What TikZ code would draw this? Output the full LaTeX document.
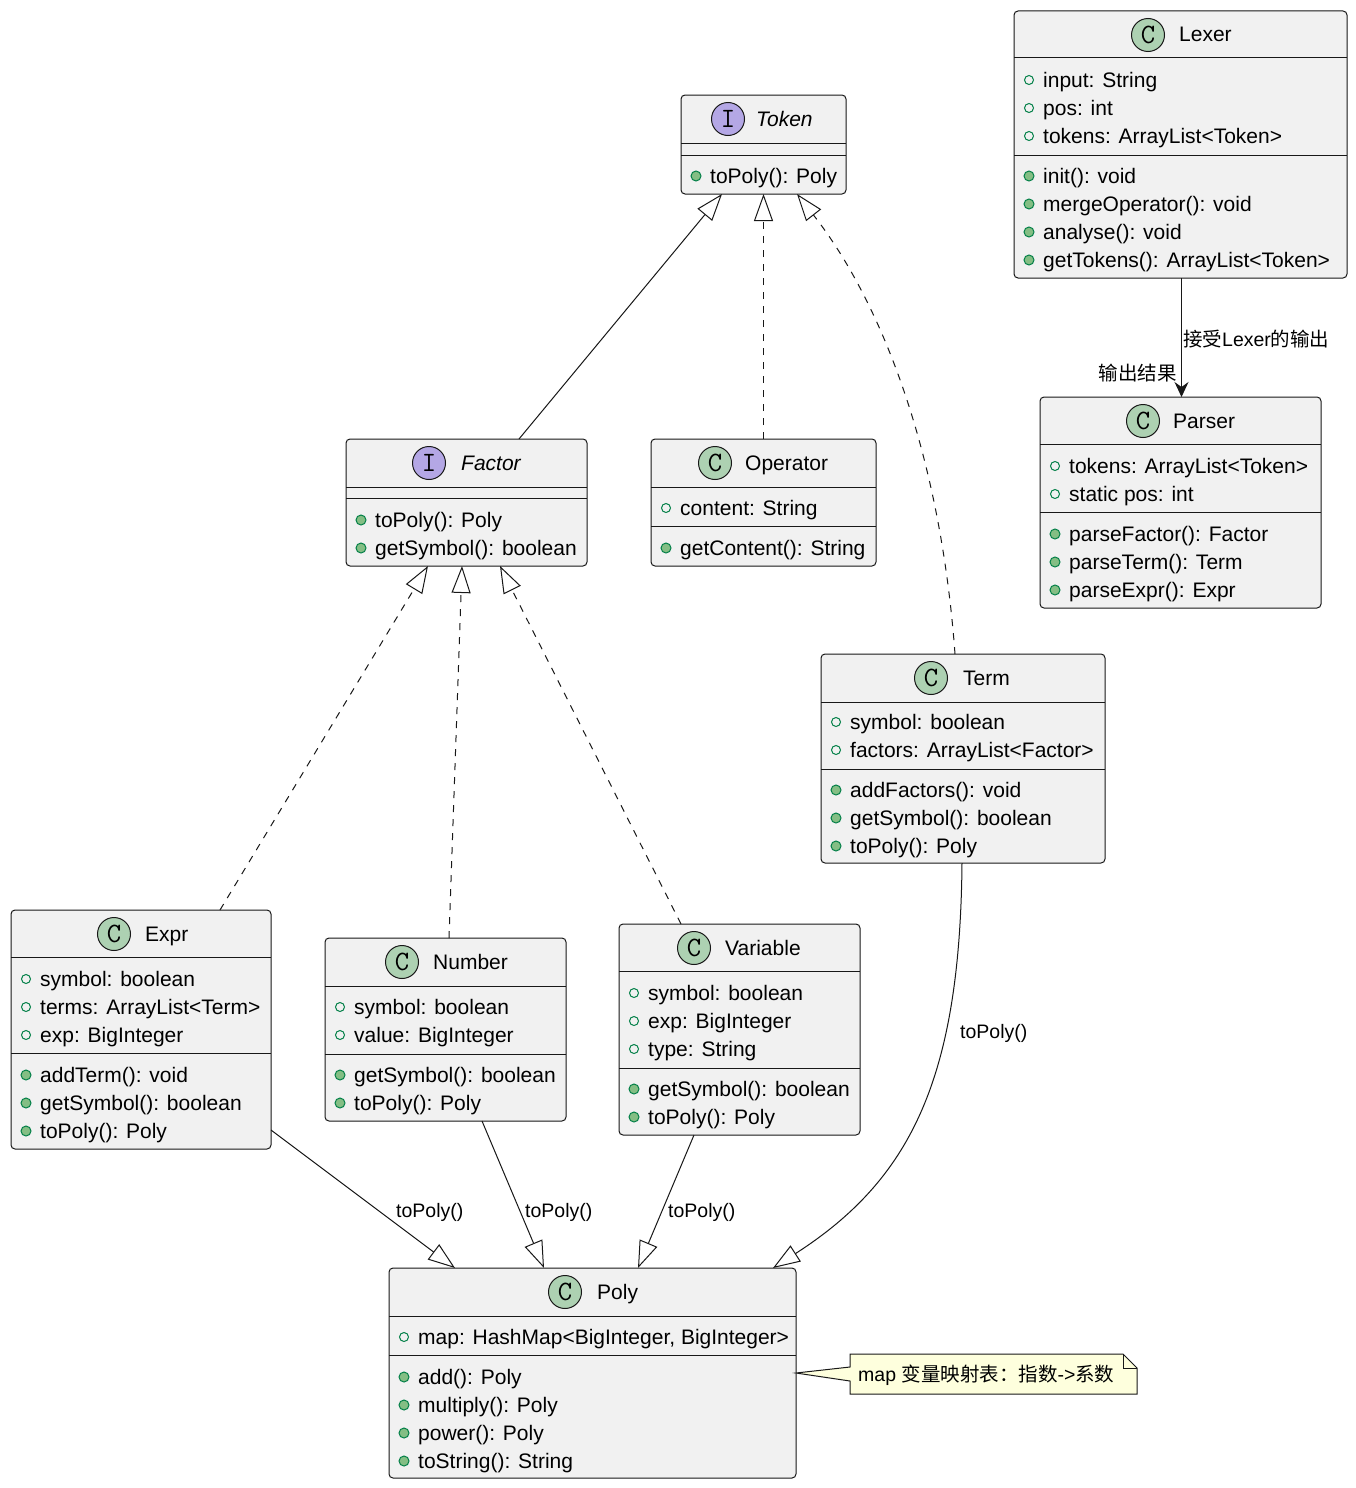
\documentclass[tikz,border=0pt]{standalone}
\usepackage{fontspec}
\setmainfont{Liberation Sans}
\newfontfamily\cjk{Noto Sans CJK SC}
\usetikzlibrary{arrows.meta,fit}
\definecolor{boxfill}{HTML}{F1F1F1}
\definecolor{boxline}{HTML}{181818}
\definecolor{classspot}{HTML}{ADD1B2}
\definecolor{ifacespot}{HTML}{B4A7E5}
\definecolor{mgreen}{HTML}{038048}
\definecolor{mfill}{HTML}{84BE84}
\definecolor{notefill}{HTML}{FEFFDD}
\newcommand\memfont{\fontsize{21}{25}\selectfont}
\newcommand\lblfont{\fontsize{19.5}{23}\selectfont}
\newcounter{mc}
\newcommand\attr[3]{\stepcounter{mc}\node[attrmark] (am\arabic{mc}) at ({#1+15},#2) {};
  \node[member] (at\arabic{mc}) at ({#1+29},{#2+7}) {#3};}
\newcommand\meth[3]{\stepcounter{mc}\node[methmark] (mm\arabic{mc}) at ({#1+15},#2) {};
  \node[member] (mt\arabic{mc}) at ({#1+29},{#2+7}) {#3};}
\newcommand\chdr[4]{\stepcounter{mc}\node[spot, fill=classspot] (sp\arabic{mc}) at (#1,#2) {C};
  \node[member] (hn\arabic{mc}) at (#3,{#2+7}) {#4};}
\newcommand\ihdr[4]{\stepcounter{mc}\node[spot, fill=ifacespot] (sp\arabic{mc}) at (#1,#2) {I};
  \node[member] (hn\arabic{mc}) at (#3,{#2+7}) {\itshape #4};}
\tikzset{
  classbox/.style={draw=boxline, fill=boxfill, line width=1pt, rounded corners=4pt, inner sep=0pt, outer sep=0pt},
  divline/.style={draw=boxline, line width=1pt},
  spot/.style={circle, draw=boxline, line width=1pt, minimum size=33pt, inner sep=0pt, font=\ttfamily\fontsize{28}{28}\selectfont},
  member/.style={anchor=base west, inner sep=0pt, font=\memfont, text=black},
  attrmark/.style={circle, draw=mgreen, line width=1pt, minimum size=9pt, inner sep=0pt},
  methmark/.style={circle, draw=mgreen, fill=mfill, line width=1pt, minimum size=10pt, inner sep=0pt},
  realize/.style={draw=boxline, line width=1pt, -{Triangle[open, length=27pt, width=19pt]}},
  implement/.style={realize, dash pattern=on 7pt off 7pt},
  assoc/.style={draw=boxline, line width=1pt, -{Stealth[length=15pt, width=14pt, inset=5pt]}},
  lbl/.style={anchor=base west, inner sep=0pt, font=\lblfont},
}
\begin{document}
\begin{tikzpicture}[x=1pt, y=-1pt]
\useasboundingbox[fill=white] (0,0) rectangle (1356,1488);

% ---- Token
\node[classbox, fit={(681,95)(846,194)}] (token) {};
\ihdr{728}{119}{756}{Token}
\draw[divline] (681,143) -- (846,143);
\draw[divline] (681,155) -- (846,155);
\meth{681}{176}{toPoly(): Poly}

% ---- Lexer
\node[classbox, fit={(1014,11)(1347,278)}] (lexer) {};
\chdr{1148}{35}{1179}{Lexer}
\draw[divline] (1014,58) -- (1347,58);
\attr{1014}{80}{input: String}
\attr{1014}{108}{pos: int}
\attr{1014}{136}{tokens: ArrayList<Token>}
\draw[divline] (1014,155) -- (1347,155);
\meth{1014}{176}{init(): void}
\meth{1014}{204}{mergeOperator(): void}
\meth{1014}{232}{analyse(): void}
\meth{1014}{260}{getTokens(): ArrayList<Token>}

% ---- Parser
\node[classbox, fit={(1040,397)(1321,608)}] (parser) {};
\chdr{1143}{421}{1173}{Parser}
\draw[divline] (1040,444) -- (1321,444);
\attr{1040}{466}{tokens: ArrayList<Token>}
\attr{1040}{494}{static pos: int}
\draw[divline] (1040,512) -- (1321,512);
\meth{1040}{534}{parseFactor(): Factor}
\meth{1040}{562}{parseTerm(): Term}
\meth{1040}{590}{parseExpr(): Expr}

% ---- Factor
\node[classbox, fit={(346,439)(587,566)}] (factor) {};
\ihdr{429}{463}{461}{Factor}
\draw[divline] (346,487) -- (587,487);
\draw[divline] (346,498) -- (587,498);
\meth{346}{520}{toPoly(): Poly}
\meth{346}{548}{getSymbol(): boolean}

% ---- Operator
\node[classbox, fit={(651,439)(876,566)}] (operator) {};
\chdr{715}{463}{745}{Operator}
\draw[divline] (651,487) -- (876,487);
\attr{651}{508}{content: String}
\draw[divline] (651,526) -- (876,526);
\meth{651}{548}{getContent(): String}

% ---- Term
\node[classbox, fit={(821,654)(1105,863)}] (term) {};
\chdr{931}{678}{963}{Term}
\draw[divline] (821,702) -- (1105,702);
\attr{821}{722}{symbol: boolean}
\attr{821}{750}{factors: ArrayList<Factor>}
\draw[divline] (821,769) -- (1105,769);
\meth{821}{790}{addFactors(): void}
\meth{821}{818}{getSymbol(): boolean}
\meth{821}{846}{toPoly(): Poly}

% ---- Expr
\node[classbox, fit={(11,910)(271,1149)}] (expr) {};
\chdr{114}{934}{145}{Expr}
\draw[divline] (11,957) -- (271,957);
\attr{11}{979}{symbol: boolean}
\attr{11}{1007}{terms: ArrayList<Term>}
\attr{11}{1035}{exp: BigInteger}
\draw[divline] (11,1053) -- (271,1053);
\meth{11}{1075}{addTerm(): void}
\meth{11}{1103}{getSymbol(): boolean}
\meth{11}{1131}{toPoly(): Poly}

% ---- Number
\node[classbox, fit={(325,938)(566,1121)}] (number) {};
\chdr{402}{962}{433}{Number}
\draw[divline] (325,986) -- (566,986);
\attr{325}{1007}{symbol: boolean}
\attr{325}{1035}{value: BigInteger}
\draw[divline] (325,1054) -- (566,1054);
\meth{325}{1075}{getSymbol(): boolean}
\meth{325}{1103}{toPoly(): Poly}

% ---- Variable
\node[classbox, fit={(619,924)(860,1135)}] (variable) {};
\chdr{694}{948}{725}{Variable}
\draw[divline] (619,971) -- (860,971);
\attr{619}{993}{symbol: boolean}
\attr{619}{1021}{exp: BigInteger}
\attr{619}{1049}{type: String}
\draw[divline] (619,1068) -- (860,1068);
\meth{619}{1089}{getSymbol(): boolean}
\meth{619}{1117}{toPoly(): Poly}

% ---- Poly
\node[classbox, fit={(389,1268)(796,1478)}] (poly) {};
\chdr{565}{1292}{597}{Poly}
\draw[divline] (389,1316) -- (796,1316);
\attr{389}{1337}{map: HashMap<BigInteger, BigInteger>}
\draw[divline] (389,1355) -- (796,1355);
\meth{389}{1377}{add(): Poly}
\meth{389}{1405}{multiply(): Poly}
\meth{389}{1433}{power(): Poly}
\meth{389}{1461}{toString(): String}

% ---- Note
\node[fit={(850,1354)(1137,1394)}, inner sep=0pt, outer sep=0pt] (note) {};
\draw[draw=boxline, fill=notefill, line width=1pt]
  (note.north west) -- ([xshift=-14pt]note.north east) -- ([yshift=-14pt]note.north east)
  -- (note.south east) -- (note.south west) -- ([yshift=13pt]note.south west)
  -- (poly.east) -- ([yshift=-13pt]note.north west) -- cycle;
\draw[draw=boxline, line width=1pt] ([xshift=-14pt]note.north east) -- ([xshift=-14pt,yshift=-14pt]note.north east) -- ([yshift=-14pt]note.north east);
\node[lbl] (notetext) at (858,1381) {map {\cjk 变量映射表：指数}->{\cjk 系数}};

% ---- Connectors
\draw[realize] ([xshift=173pt]factor.north west) -- ([xshift=41pt]token.south west);
\draw[implement] ([xshift=112.5pt]operator.north west) -- ([xshift=82.5pt]token.south west);
\draw[implement] ([xshift=134pt]term.north west) .. controls (940,450) and (880,300) .. ([xshift=116pt]token.south west);
\draw[implement] ([xshift=209pt]expr.north west) -- ([xshift=82pt]factor.south west);
\draw[implement] ([xshift=124pt]number.north west) -- ([xshift=116pt]factor.south west);
\draw[implement] ([xshift=62pt]variable.north west) -- ([xshift=154pt]factor.south west);
\draw[realize] ([yshift=-220pt]expr.north east) -- ([xshift=66pt]poly.north west);
\draw[realize] ([xshift=157pt]number.south west) -- ([xshift=155pt]poly.north west);
\draw[realize] ([xshift=75pt]variable.south west) -- ([xshift=249pt]poly.north west);
\draw[realize] ([xshift=141pt]term.south west) .. controls (960,1080) and (910,1180) .. ([xshift=384pt]poly.north west);
\draw[assoc] ([xshift=167.5pt]lexer.south west) -- ([xshift=141.5pt]parser.north west);

% ---- Connector labels
\node[lbl] (l1) at (396,1217) {toPoly()};
\node[lbl] (l2) at (525,1217) {toPoly()};
\node[lbl] (l3) at (668,1217) {toPoly()};
\node[lbl] (l4) at (960,1038) {toPoly()};
\node[lbl] (l5) at (1183,346) {{\cjk 接受}Lexer{\cjk 的输出}};
\node[lbl, anchor=base east] (l6) at (1177,380) {\cjk 输出结果};
\end{tikzpicture}
\end{document}
